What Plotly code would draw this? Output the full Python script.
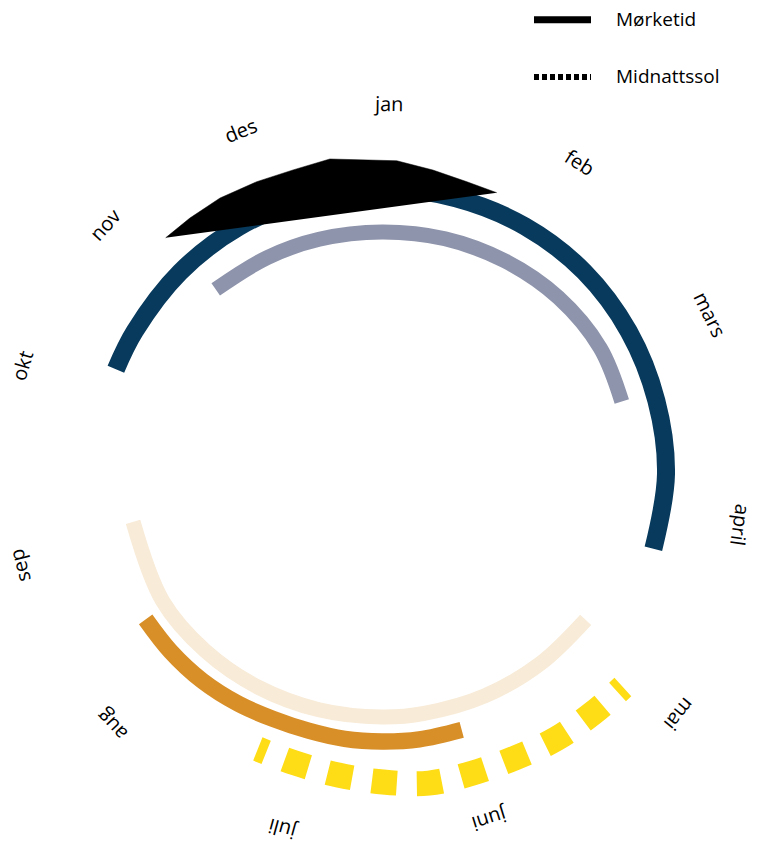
import math
import plotly.graph_objects as go

# ---------------- data (theta in degrees clockwise from top, r in ring units) ----------------
months = ["jan", "feb", "mars", "april", "mai", "juni", "juli", "aug", "sep", "okt", "nov", "des"]

morketid_theta = [-42.5, -36.9, -30.4, -23.2, -16.3, -9.4, 2.7, 9.5, 16.2, 22.2]
morketid_r = [320.3, 320.0, 320.0, 318.0, 316.8, 319.3, 313.6, 308.2, 304.3, 303.8]

midnattssol_theta = [131.5, 138.6, 146.7, 154.9, 163.1, 171.4, 179.8, 188.3, 196.8, 204.3]
midnattssol_r = [321.6, 318.8, 317.0, 313.6, 312.5, 312.6, 308.0, 304.2, 301.8, 301.7]

gray_theta = [-42, -28, -15, 0, 15, 30, 45, 60, 73.2]
gray_r = [248.5, 245, 243, 242, 243.5, 246, 249.5, 252, 250.5]

blue_theta = [-68.5, -60, -45, -30, -15, 0, 15, 30, 45, 60, 75, 90, 105.4]
blue_r = [286, 285.5, 285.5, 285.5, 285.5, 285.5, 285.5, 286, 286, 285, 284, 284, 281.5]

beige_theta = [125.6, 140, 155, 170, 180, 195, 210, 225, 240, 259.1]
beige_r = [250.5, 247, 244.5, 243, 243, 244, 246.5, 250, 253.5, 253.5]

orange_theta = [162.7, 172, 180, 188, 196, 204, 212, 221, 230, 238.4]
orange_r = [268, 268, 267.5, 267.5, 267, 268, 271, 274, 276, 277.5]

# ---------------- layout constants ----------------
OFF = 8                 # page body margin in px
W, H = 758 - OFF, 843 - OFF
CX, CY = 382 - OFF, 474 - OFF   # polar centre in figure px
RMAX = 360              # half size of polar domain in px (radial range 0..RMAX)
label_theta = [0.9, 32.4, 64.1, 98.1, 129, 162.7, 195.5, 227.1, 255.9, 286.8, 312, 337.6]
label_radius = [371, 369.5, 364.5, 361.6, 383, 362.5, 369.5, 368.6, 373.3, 376, 372.5, 372]

FONT = "Open Sans"

fig = go.Figure()


def band(theta, r, color, width, dash="solid", shape="spline"):
    fig.add_trace(go.Scatterpolar(
        theta=theta, r=r, mode="lines",
        line=dict(color=color, width=width, dash=dash, shape=shape, smoothing=1),
        hoverinfo="skip", showlegend=False))


band(gray_theta, gray_r, "#8e94ab", 15)
band(beige_theta, beige_r, "#f8ebd7", 15)
band(blue_theta, blue_r, "#073a5c", 18)
band(orange_theta, orange_r, "#d98f27", 16.5)

dash_pattern = "7px,20px," + "25px,20px," * 8 + "25px"
band(midnattssol_theta, midnattssol_r, "#fedc16", 25, dash_pattern)

fig.add_trace(go.Scatterpolar(
    theta=morketid_theta, r=morketid_r, mode="lines", fill="toself",
    fillcolor="#000000", line=dict(color="#000000", width=0.5),
    hoverinfo="skip", showlegend=False, name="Mørketid"))

fig.update_layout(
    width=W, height=H,
    margin=dict(l=0, r=0, t=0, b=0),
    paper_bgcolor="white",
    showlegend=False,
    polar=dict(
        domain=dict(x=[(CX - RMAX) / W, (CX + RMAX) / W],
                    y=[1 - (CY + RMAX) / H, 1 - (CY - RMAX) / H]),
        bgcolor="rgba(0,0,0,0)",
        radialaxis=dict(range=[0, RMAX], visible=False),
        angularaxis=dict(rotation=90, direction="clockwise", visible=False),
    ),
)

annotations = []
for name, th, rr in zip(months, label_theta, label_radius):
    px = CX + rr * math.sin(math.radians(th))
    py = CY - rr * math.cos(math.radians(th))
    ang = th if th <= 180 else th - 360
    annotations.append(dict(
        x=px / W, y=1 - py / H, xref="paper", yref="paper",
        text=name, showarrow=False, textangle=ang,
        xanchor="center", yanchor="middle",
        font=dict(family=FONT, size=20, color="black")))

# manual legend (px positions in page coordinates)
legend_items = [("Mørketid", 19.7, "solid", 7), ("Midnattssol", 77, "5px,3px", 6)]
shapes = []
for text, ly, dsh, lw in legend_items:
    y = 1 - (ly - OFF) / H
    shapes.append(dict(type="line", xref="paper", yref="paper",
                       x0=(534 - OFF) / W, x1=(591 - OFF) / W, y0=y, y1=y,
                       line=dict(color="black", width=lw, dash=dsh)))
    annotations.append(dict(
        x=(614 - OFF) / W, y=1 - (ly - 1 - OFF) / H, xref="paper", yref="paper",
        text=text, showarrow=False, xanchor="left", yanchor="middle",
        font=dict(family=FONT, size=19, color="black")))

fig.update_layout(annotations=annotations, shapes=shapes)
fig.write_html("out.html")
